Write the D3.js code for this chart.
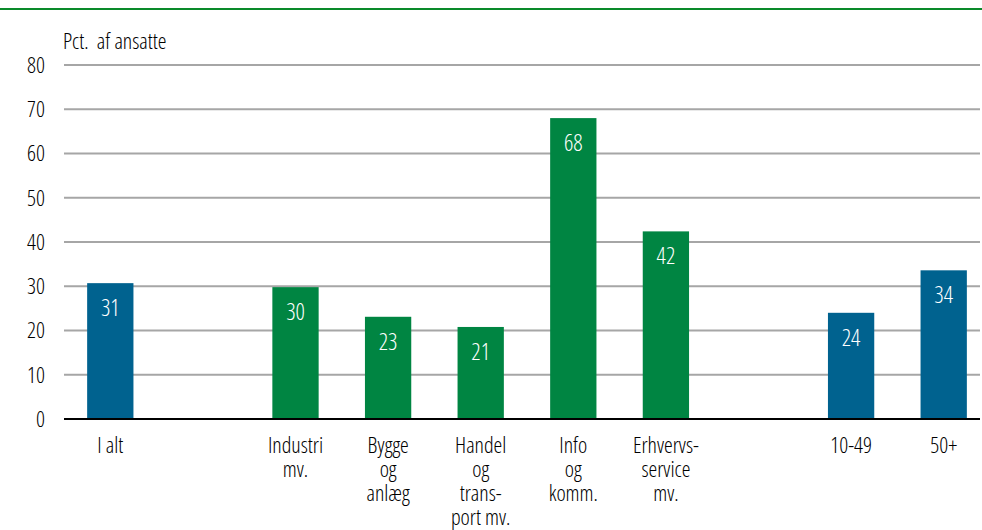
<!DOCTYPE html>
<html>
<head>
<meta charset="utf-8">
<script src="https://cdn.jsdelivr.net/npm/d3@7"></script>
<style>
  body { margin: 0; background: #fff; }
  svg text { font-family: "Open Sans", sans-serif; font-stretch: 75%; font-weight: 300; }
</style>
</head>
<body>
<div id="chart"></div>
<script>
// categories ("gap" slots are the spaces between the groups)
var categories = ["I alt", "gap1", "Industri mv.", "Bygge og anlæg", "Handel og transport mv.", "Info og komm.", "Erhvervsservice mv.", "gap2", "10-49", "50+"];
var catLines = [["I alt"], [], ["Industri", "mv."], ["Bygge", "og", "anlæg"], ["Handel", "og", "trans-", "port mv."], ["Info", "og", "komm."], ["Erhvervs-", "service", "mv."], [], ["10-49"], ["50+"]];
var values = [30.7, null, 29.8, 23.1, 20.8, 68.0, 42.4, null, 24.0, 33.6];
var groups = ["total", null, "sector", "sector", "sector", "sector", "sector", null, "size", "size"];
var yTicks = [0, 10, 20, 30, 40, 50, 60, 70, 80];

var W = 982, H = 530;
var margin = {top: 65, left: 64, bottom: 111};
var plotRight = 980;
var height = H - margin.top - margin.bottom;

var svg = d3.select("#chart").append("svg")
    .attr("width", W)
    .attr("height", H);

// green rule at the top
svg.append("line")
    .attr("x1", 0).attr("x2", W)
    .attr("y1", 9).attr("y2", 9)
    .attr("stroke", "#0a8a2a")
    .attr("stroke-width", 2);

var x = d3.scaleBand()
    .domain(categories)
    .range([margin.left, margin.left + 926])
    .paddingInner(0.5)
    .paddingOuter(0.25);

var y = d3.scaleLinear()
    .domain([0, 80])
    .range([margin.top + height, margin.top]);

// gridlines
svg.append("g").selectAll("line")
    .data(yTicks.filter(function(d) { return d > 0; }))
    .enter().append("line")
    .attr("x1", margin.left).attr("x2", plotRight)
    .attr("y1", function(d) { return y(d); })
    .attr("y2", function(d) { return y(d); })
    .attr("stroke", "#a6a6a6")
    .attr("stroke-width", 2);

// y tick labels
svg.append("g").selectAll("text")
    .data(yTicks)
    .enter().append("text")
    .attr("x", 45)
    .attr("y", function(d) { return y(d); })
    .attr("dy", "0.36em")
    .attr("text-anchor", "end")
    .attr("font-size", 22)
    .attr("fill", "#000")
    .text(function(d) { return d; });

svg.append("text")
    .attr("x", 63)
    .attr("y", 49)
    .attr("font-size", 22)
    .attr("fill", "#000")
    .attr("xml:space", "preserve")
    .text("Pct.  af ansatte");

var colour = {total: "#00628f", size: "#00628f", sector: "#008542"};

var bars = categories.map(function(c, i) {
  return {cat: c, value: values[i], group: groups[i], lines: catLines[i]};
});

svg.append("g").selectAll("rect")
    .data(bars.filter(function(d) { return d.value != null; }))
    .enter().append("rect")
    .attr("x", function(d) { return x(d.cat); })
    .attr("width", x.bandwidth())
    .attr("y", function(d) { return y(d.value); })
    .attr("height", function(d) { return y(0) - y(d.value); })
    .attr("fill", function(d) { return colour[d.group]; });

// value labels inside bars
svg.append("g").selectAll("text")
    .data(bars.filter(function(d) { return d.value != null; }))
    .enter().append("text")
    .attr("x", function(d) { return x(d.cat) + x.bandwidth() / 2; })
    .attr("y", function(d) { return y(d.value) + 33; })
    .attr("text-anchor", "middle")
    .attr("font-size", 23)
    .attr("fill", "#fff")
    .text(function(d) { return Math.round(d.value); });

// baseline
svg.append("line")
    .attr("x1", margin.left).attr("x2", plotRight)
    .attr("y1", y(0)).attr("y2", y(0))
    .attr("stroke", "#000")
    .attr("stroke-width", 2);

// category labels
var lab = svg.append("g").selectAll("text")
    .data(bars)
    .enter().append("text")
    .attr("x", function(d) { return x(d.cat) + x.bandwidth() / 2; })
    .attr("y", y(0) + 34)
    .attr("text-anchor", "middle")
    .attr("font-size", 22)
    .attr("fill", "#000");

lab.selectAll("tspan")
    .data(function(d) { return d.lines; })
    .enter().append("tspan")
    .attr("x", function() { var p = d3.select(this.parentNode).datum(); return x(p.cat) + x.bandwidth() / 2; })
    .attr("dy", function(d, i) { return i === 0 ? 0 : 24; })
    .text(function(d) { return d; });
</script>
</body>
</html>
